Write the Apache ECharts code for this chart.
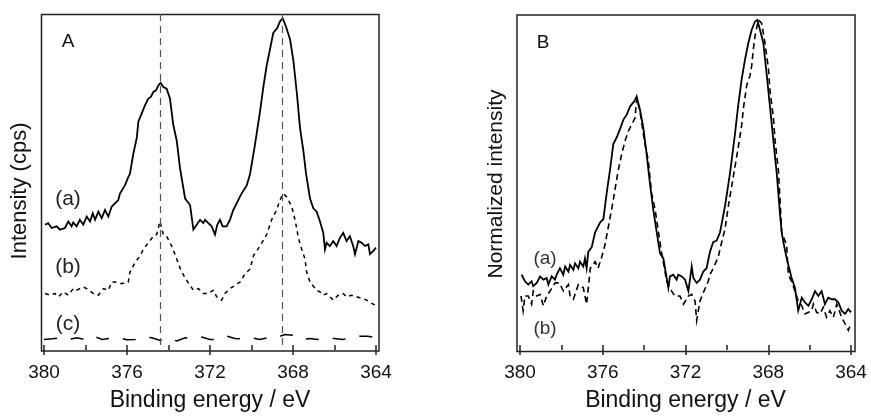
<!DOCTYPE html>
<html><head><meta charset="utf-8">
<script src="https://cdn.jsdelivr.net/npm/echarts@6/dist/echarts.min.js"></script>
<style>html,body{margin:0;padding:0;background:#fff}#c{width:871px;height:417px}</style>
</head><body><div id="c"></div>
<script>
// ---- Panel A: binding energy (eV) and intensity (arb. units) ----
const energyAa = [379.95,379.8,379.63,379.39,379.23,378.99,378.83,378.67,378.59,378.43,378.27,378.11,377.94,377.78,377.65,377.54,377.38,377.22,377.06,376.9,376.74,376.58,376.42,376.34,376.1,375.94,375.86,375.7,375.53,375.45,375.29,375.13,374.97,374.85,374.73,374.6,374.49,374.38,374.25,374.09,373.93,373.77,373.6,373.45,373.2,372.96,372.8,372.64,372.48,372.32,372.24,372.08,371.92,371.76,371.65,371.52,371.39,371.2,371.04,370.88,370.64,370.48,370.23,370.07,369.83,369.59,369.43,369.27,369.11,368.95,368.76,368.63,368.5,368.34,368.14,367.98,367.82,367.66,367.5,367.37,367.18,367.02,366.86,366.7,366.54,366.46,366.38,366.22,366.06,365.9,365.74,365.58,365.42,365.26,365.1,365.01,364.85,364.69,364.53,364.37,364.29,364.13,364];
const intensityAa = [367,372,357,362,352,357,377,362,374,362,382,367,392,377,402,382,407,387,412,392,422,432,442,462,487,512,522,582,632,682,707,732,752,757,772,777,792,800,787,782,752,672,622,542,447,427,352,367,382,372,382,372,362,337,367,382,362,362,382,412,442,462,487,522,612,712,787,852,902,952,967,987,997,972,932,867,772,662,592,522,447,417,407,377,342,292,312,302,317,302,327,342,317,332,302,277,317,312,302,307,277,287,297];

const energyAb = [379.95,379.71,379.47,379.31,379.07,378.83,378.59,378.43,378.11,377.94,377.62,377.38,377.14,376.9,376.74,376.5,376.26,375.94,375.86,375.61,375.37,375.21,374.97,374.73,374.57,374.41,374.25,374.09,373.85,373.69,373.4,373.12,372.8,372.56,372.32,372.08,371.84,371.68,371.44,371.28,371.04,370.8,370.55,370.31,370.07,369.91,369.59,369.27,369.03,368.79,368.63,368.47,368.3,368.06,367.9,367.74,367.58,367.42,367.34,367.18,366.86,366.7,366.54,366.38,366.06,365.82,365.58,365.42,365.18,364.93,364.69,364.45,364.21,364.05];
const intensityAb = [157,152,157,147,162,152,172,167,177,172,157,152,172,167,192,192,187,192,222,252,272,292,312,332,337,377,337,332,302,277,227,197,167,172,157,157,167,147,137,157,172,182,192,217,232,272,302,337,382,412,442,462,452,422,382,327,292,262,222,192,167,162,152,157,137,152,157,147,152,147,142,137,127,122];

const energyAc = [380,379.6,379.2,378.8,378.4,378,377.6,377.2,376.8,376.4,376,375.6,375.2,374.8,374.4,374,373.6,373.2,372.8,372.4,372,371.6,371.2,370.8,370.4,370,369.6,369.2,368.8,368.4,368,367.6,367.2,366.8,366.4,366,365.6,365.2,364.8,364.4,364];
const intensityAc = [17,19,22,17,22,16,27,17,20,22,16,17,24,22,14,22,12,22,20,24,17,17,27,20,19,22,17,22,22,32,30,17,20,17,19,20,17,22,27,27,22];

// ---- Panel B: normalized intensity ----
const energyBa = [379.92,379.76,379.6,379.44,379.36,379.19,379.03,378.87,378.71,378.63,378.47,378.31,378.23,378.07,377.91,377.82,377.66,377.58,377.42,377.34,377.18,377.1,376.94,376.86,376.78,376.7,376.53,376.37,376.13,375.97,375.81,375.65,375.49,375.33,375.17,375,374.84,374.68,374.49,374.36,374.2,374.04,373.88,373.72,373.56,373.39,373.23,373.07,372.99,372.83,372.75,372.59,372.43,372.35,372.18,372.02,371.86,371.7,371.62,371.46,371.3,371.14,370.98,370.9,370.82,370.66,370.49,370.33,370.09,369.85,369.61,369.45,369.28,369.12,368.96,368.8,368.64,368.53,368.4,368.24,368.07,367.91,367.75,367.59,367.43,367.35,367.27,367.11,366.87,366.71,366.62,366.55,366.38,366.22,366.06,365.9,365.74,365.58,365.42,365.26,365.1,364.93,364.77,364.61,364.45,364.29,364.13,364];
const intensityBa = [215,195,185,195,180,190,210,200,205,185,210,200,215,235,215,240,225,245,230,250,235,255,240,265,235,285,300,345,375,385,465,535,615,635,660,690,705,730,745,760,720,665,585,495,415,345,280,265,235,175,210,215,200,215,210,200,165,240,205,190,200,225,235,260,285,315,320,345,425,525,645,735,815,875,925,965,990,995,965,925,825,725,625,525,400,345,315,265,205,175,135,105,145,130,120,140,165,150,165,125,145,140,140,130,105,95,110,100];

const energyBb = [379.95,379.85,379.76,379.6,379.44,379.36,379.19,379.03,378.87,378.71,378.5,378.3,378.1,377.9,377.66,377.58,377.42,377.18,376.94,376.78,376.6,376.37,376.23,376.07,375.9,375.81,375.57,375.41,375.25,375.08,374.92,374.76,374.6,374.44,374.36,374.2,373.96,373.8,373.64,373.47,373.2,372.91,372.67,372.51,372.27,372.1,371.86,371.7,371.54,371.46,371.3,371.14,370.9,370.82,370.66,370.41,370.33,370.25,370.09,369.93,369.77,369.61,369.45,369.28,369.2,369.04,368.88,368.8,368.72,368.64,368.48,368.32,368.16,367.99,367.91,367.75,367.67,367.51,367.43,367.35,367.11,367.03,366.87,366.71,366.55,366.38,366.22,366.06,365.9,365.82,365.66,365.5,365.34,365.18,365.02,364.85,364.69,364.45,364.29,364.13,364];
const intensityBb = [150,105,150,150,125,165,150,155,120,150,170,190,190,165,185,150,140,185,175,125,235,255,235,265,305,335,415,475,535,585,625,655,675,695,755,715,615,565,465,415,300,195,165,150,150,125,150,155,135,75,135,160,195,215,235,270,295,315,355,425,485,545,605,675,725,795,825,855,905,945,995,985,925,845,775,695,625,535,445,345,305,215,195,165,135,120,95,100,105,125,100,95,115,85,105,85,125,85,65,45,65];

const peakLines = [374.4, 368.5];
const xTicks = [364, 368, 372, 376, 380];
const xMin = 364, xMax = 380, xStep = 4;

const pair = (xs, ys) => xs.map((x, i) => [x, ys[i]]);
const FF = 'Liberation Sans, Arial, sans-serif';

function xAxisCfg(gi) {
  return {
    gridIndex: gi, type: 'value', min: xMin, max: xMax, interval: xStep, inverse: true,
    axisLine: {show: false},
    axisTick: {show: true, length: 10, lineStyle: {color: '#222', width: 1.5}},
    minorTick: {show: true, splitNumber: 2, length: 5, lineStyle: {color: '#222', width: 1.5}},
    splitLine: {show: false}, minorSplitLine: {show: false},
    axisLabel: {fontSize: 19, color: '#111', margin: 18, fontFamily: FF},
    name: 'Binding energy / eV', nameLocation: 'middle', nameGap: 44,
    nameTextStyle: {fontSize: 23, color: '#111', fontFamily: FF}
  };
}
function yAxisCfg(gi) {
  return {gridIndex: gi, type: 'value', min: 0, max: 1010, show: false};
}
const line = (xi, data, type, width) => ({
  type: 'line', xAxisIndex: xi, yAxisIndex: xi, data, showSymbol: false, symbol: 'none',
  lineStyle: {color: '#000', width, type, join: 'miter'}, animation: false, silent: true
});

const chart = echarts.init(document.getElementById('c'));
const sAa = line(0, pair(energyAa, intensityAa), 'solid', 1.8);
sAa.markLine = {
  silent: true, symbol: 'none', label: {show: false}, animation: false,
  lineStyle: {color: '#555', width: 1.2, type: [7, 5]},
  data: peakLines.map(v => ({xAxis: v}))
};
chart.setOption({
  backgroundColor: '#fff',
  grid: [
    {left: 44, width: 332, top: 14, height: 337},
    {left: 520, width: 331, top: 15, height: 337}
  ],
  xAxis: [xAxisCfg(0), xAxisCfg(1)],
  yAxis: [yAxisCfg(0), yAxisCfg(1)],
  series: [
    sAa,
    line(0, pair(energyAb, intensityAb), [4, 4], 1.5),
    line(0, pair(energyAc, intensityAc), [13, 14], 1.5),
    line(1, pair(energyBa, intensityBa), 'solid', 1.8),
    line(1, pair(energyBb, intensityBb), [6, 4], 1.6)
  ],
  graphic: [
    {type: 'rect', shape: {x: 41.5, y: 14.5, width: 337.5, height: 336.5}, style: {fill: 'none', stroke: '#222', lineWidth: 1.5}, silent: true},
    {type: 'rect', shape: {x: 517, y: 15, width: 338, height: 336.5}, style: {fill: 'none', stroke: '#222', lineWidth: 1.5}, silent: true},
    {type: 'text', x: 20, y: 191, rotation: Math.PI / 2, style: {text: 'Intensity (cps)', fontSize: 22, fontFamily: FF, fill: '#111', align: 'center', verticalAlign: 'middle'}},
    {type: 'text', x: 496, y: 184, rotation: Math.PI / 2, style: {text: 'Normalized intensity', fontSize: 21, fontFamily: FF, fill: '#111', align: 'center', verticalAlign: 'middle'}},
    {type: 'text', x: 68, y: 42, style: {text: 'A', fontSize: 19, fontFamily: FF, fill: '#111', align: 'center', verticalAlign: 'middle'}},
    {type: 'text', x: 543, y: 43, style: {text: 'B', fontSize: 19, fontFamily: FF, fill: '#111', align: 'center', verticalAlign: 'middle'}},
    {type: 'text', x: 68, y: 199, style: {text: '(a)', fontSize: 21, fontFamily: FF, fill: '#222', align: 'center', verticalAlign: 'middle'}},
    {type: 'text', x: 68, y: 267, style: {text: '(b)', fontSize: 21, fontFamily: FF, fill: '#222', align: 'center', verticalAlign: 'middle'}},
    {type: 'text', x: 68, y: 324, style: {text: '(c)', fontSize: 21, fontFamily: FF, fill: '#222', align: 'center', verticalAlign: 'middle'}},
    {type: 'text', x: 545, y: 259, style: {text: '(a)', fontSize: 19, fontFamily: FF, fill: '#333', align: 'center', verticalAlign: 'middle'}},
    {type: 'text', x: 545, y: 329, style: {text: '(b)', fontSize: 19, fontFamily: FF, fill: '#333', align: 'center', verticalAlign: 'middle'}}
  ]
});
</script></body></html>
